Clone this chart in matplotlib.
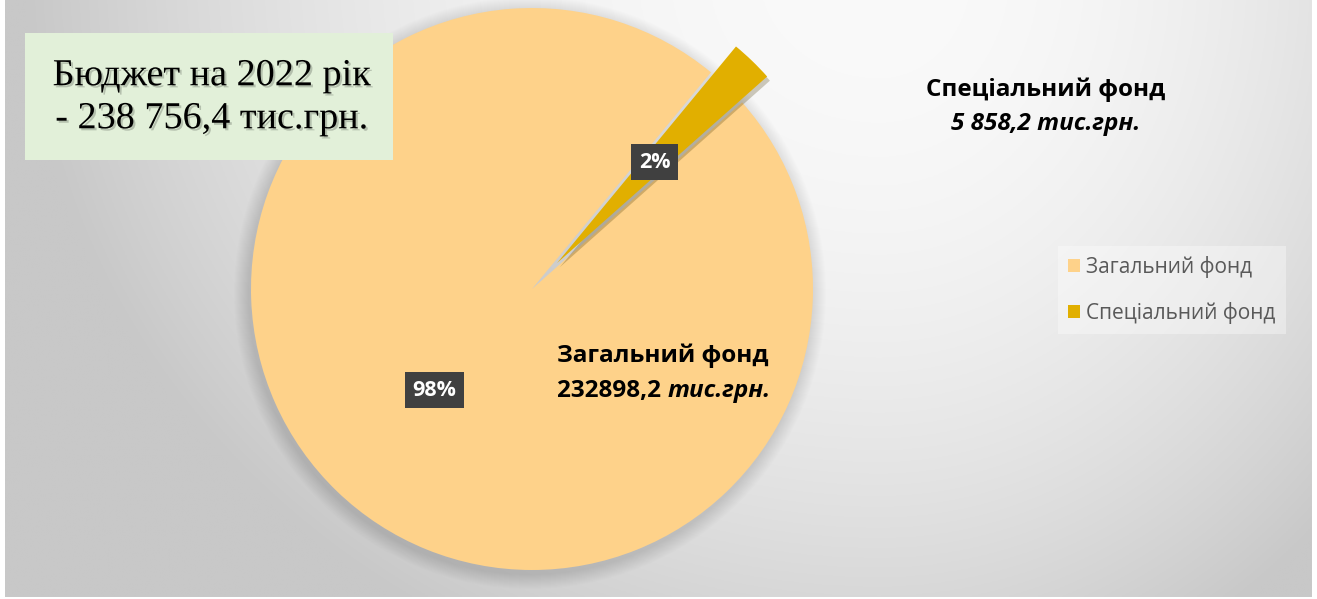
import numpy as np
import matplotlib
matplotlib.use("Agg")
import matplotlib.pyplot as plt
from matplotlib.patches import Rectangle, Circle, Patch
import matplotlib.patheffects as pe

# ---------------- data ----------------
categories = ["Загальний фонд", "Спеціальний фонд"]
values = [232898.2, 5858.2]
value_texts = ["232898,2", "5 858,2"]
unit_text = "тис.грн."
title_lines = ["Бюджет на 2022 рік", "- 238 756,4 тис.грн."]
colors = ["#FED28A", "#E1AF00"]

plt.rcParams['font.family'] = ['Open Sans', 'DejaVu Sans']

W, H = 1317, 599
fig = plt.figure(figsize=(W / 100, H / 100), dpi=100, facecolor="white")

# ---------------- background gradient ----------------
bg = fig.add_axes([5 / W, 2 / H, 1307 / W, 597 / H])
bg.axis("off")
xs = np.linspace(5, 1312, 600)
ys = np.linspace(0, 597, 300)
X, Y = np.meshgrid(xs, ys)
cx0, cy0 = 880, -30
a = np.where(X < cx0, 855.0, 650.0)
r2 = ((X - cx0) / a) ** 2 + ((Y - cy0) / 760.0) ** 2
val = np.clip(250 - 50 * r2, 200, 250) / 255.0
img = np.dstack([val, val, val])
bg.imshow(img, extent=(0, 1, 0, 1), origin="upper", aspect="auto")
bg.set_xlim(0, 1); bg.set_ylim(0, 1)

# ---------------- pie ----------------
ax = fig.add_axes([0, 0, 1, 1])
ax.patch.set_alpha(0)
pcx, pcy, R = 532, 599 - 289, 281

# soft shadow around the pie
for k in range(1, 16):
    ax.add_patch(Circle((pcx - 2, pcy - 4), R + k, facecolor="black",
                        edgecolor="none", alpha=0.009, zorder=0))

wedges, _, autotexts = ax.pie(
    values, colors=colors, center=(pcx, pcy), radius=R,
    startangle=41.6, counterclock=False, explode=[0, 36],
    autopct="%.0f%%", pctdistance=0.5,
    wedgeprops=dict(linewidth=0, zorder=2),
    textprops=dict(color="white", fontsize=15.5, fontweight="bold"))
wedges[1].set_path_effects([pe.SimplePatchShadow(offset=(2, -3), alpha=0.25), pe.Normal()])
for t in autotexts:
    t.set_zorder(5)
    t.set_bbox(dict(boxstyle="square,pad=0.36", facecolor="#404040",
                    edgecolor="none"))

ax.set_xlim(0, W)
ax.set_ylim(0, H)
ax.set_aspect("equal")
ax.axis("off")

# ---------------- data labels ----------------
lab_kw = dict(fontsize=17.5, fontweight="bold", color="black", zorder=6)
t1 = ax.text(557, H - 356, categories[0], ha="left", va="center", **lab_kw)
t2 = ax.text(557, H - 391, value_texts[0] + " ", ha="left", va="center", **lab_kw)
ax.annotate(unit_text, xy=(1, 0.5), xycoords=t2, ha="left", va="center",
            fontstyle="italic", **lab_kw)

ax.text(1046, H - 90, categories[1], ha="center", va="center", **lab_kw)
ax.text(1046, H - 124, value_texts[1] + " " + unit_text, ha="center", va="center",
        fontstyle="italic", **lab_kw)

# ---------------- legend ----------------
handles = [Patch(facecolor=c, edgecolor="none") for c in colors]
leg = ax.legend(handles, categories, loc="center left",
                bbox_to_anchor=(1058 / W, (H - 290) / H),
                bbox_transform=fig.transFigure,
                fontsize=15, frameon=True, facecolor="white", framealpha=0.35,
                edgecolor="none", fancybox=False,
                handlelength=0.55, handleheight=0.55, handletextpad=0.3,
                labelspacing=1.15, borderpad=0.5, borderaxespad=0)
for t in leg.get_texts():
    t.set_color("#595959")

# ---------------- title box ----------------
fig.patches.append(Rectangle((25 / W, 1 - 160 / H), (393 - 25) / W, (160 - 33) / H,
                             transform=fig.transFigure, facecolor="#E2F0D9",
                             edgecolor="none", zorder=3))
for i, line in enumerate(title_lines):
    fig.text(212 / W, 1 - (76 + 43 * i) / H, line, ha="center", va="center",
             family="Liberation Serif", fontsize=27.5, color="black", zorder=4,
             path_effects=[pe.withSimplePatchShadow(offset=(1.5, -1.5), alpha=0.2)])

fig.savefig("out.png", dpi=100, facecolor="white")
